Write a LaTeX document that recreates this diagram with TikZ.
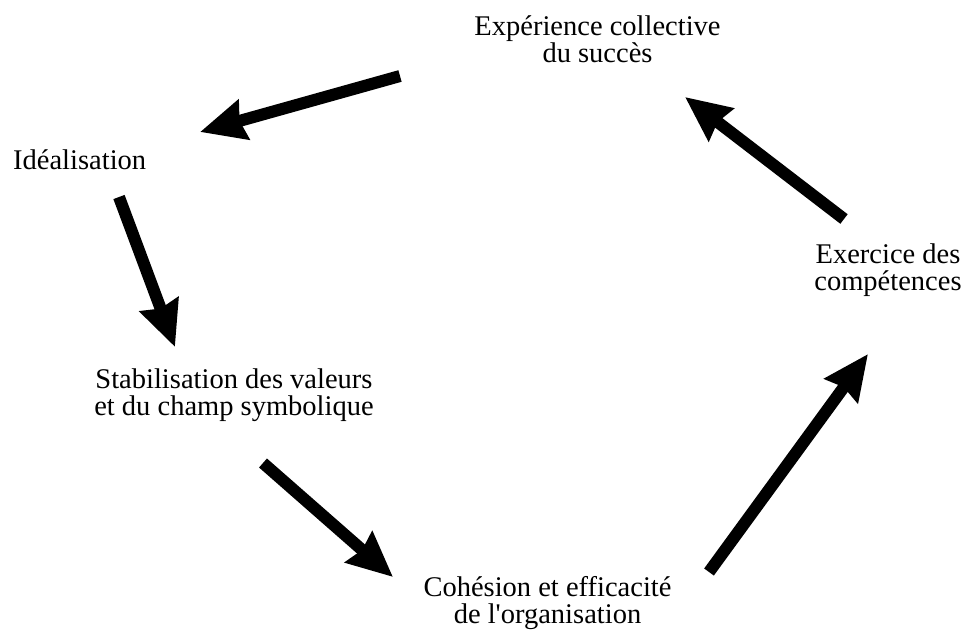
\documentclass[tikz,border=0pt]{standalone}
\usepackage{fontspec}
\setmainfont{Liberation Serif}
\usetikzlibrary{arrows.meta}
\tikzset{
  lbl/.style={font=\fontsize{28.5}{27}\selectfont, align=center, inner sep=0pt, anchor=base},
  bigarrow/.style={line width=12pt, line cap=butt, -{Stealth[length=45pt, width=40pt, inset=4pt]}}
}
\begin{document}
\begin{tikzpicture}[x=1pt, y=-1pt]
\useasboundingbox (0,0) rectangle (967,633);
\node[lbl] (exp) at (597.5,62) {Expérience collective\\du succès};
\node[lbl, anchor=base west] (ide) at (13,169) {Idéalisation};
\node[lbl] (sta) at (234,415) {Stabilisation des valeurs\\et du champ symbolique};
\node[lbl] (coh) at (547.5,623) {Cohésion et efficacité\\de l\textquotesingle organisation};
\node[lbl] (exc) at (888,290) {Exercice des\\compétences};
\coordinate (a1s) at (400,76);  \coordinate (a1e) at (200,132);
\coordinate (a2s) at (119,197); \coordinate (a2e) at (175,347);
\coordinate (a3s) at (263,463); \coordinate (a3e) at (393,577);
\coordinate (a4s) at (709,572); \coordinate (a4e) at (868,354);
\coordinate (a5s) at (844,219); \coordinate (a5e) at (685,97);
\draw[bigarrow] (a1s) -- (a1e);
\draw[bigarrow] (a2s) -- (a2e);
\draw[bigarrow] (a3s) -- (a3e);
\draw[bigarrow] (a4s) -- (a4e);
\draw[bigarrow] (a5s) -- (a5e);
\end{tikzpicture}
\end{document}
